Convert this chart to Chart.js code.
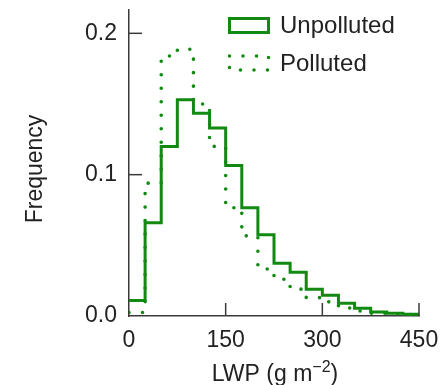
<!DOCTYPE html>
<html>
<head>
<meta charset="utf-8">
<script src="https://cdn.jsdelivr.net/npm/chart.js@4"></script>
<style>
  html, body { margin: 0; padding: 0; background: #fff; }
  #wrap { width: 444px; height: 385px; }
</style>
</head>
<body>
<div id="wrap"><canvas id="lwpChart" width="444" height="385"></canvas></div>
<script>
// LWP histograms, 25 g m-2 bins
const binEdges = [0, 25, 50, 75, 100, 125, 150, 175, 200, 225, 250, 275, 300, 325, 350, 375, 400, 425, 450];
const unpolluted = [0.011, 0.066, 0.120, 0.153, 0.1435, 0.133, 0.1065, 0.0766, 0.0574, 0.0374, 0.031, 0.019, 0.0146, 0.009, 0.0055, 0.0028, 0.002, 0.0013];
const polluted = [0.0025, 0.094, 0.184, 0.1887, 0.150, 0.120, 0.0766, 0.0567, 0.0333, 0.026, 0.019, 0.013, 0.010, 0.0057, 0.0035, 0.002, 0.0015, 0.001];
const seriesNames = ['Unpolluted', 'Polluted'];
const xTicks = [0, 150, 300, 450];
const yTicks = [0, 0.1, 0.2];

const GREEN = '#128a12';
const AXIS = '#3a3a3a';
const TEXT = '#222';
const FONT = '"Liberation Sans", Arial, Helvetica, sans-serif';

function stepPoints(values) {
  const pts = values.map((v, i) => ({ x: binEdges[i], y: v }));
  pts.push({ x: binEdges[binEdges.length - 1], y: values[values.length - 1] });
  return pts;
}

function strokeLine(ctx, x1, y1, x2, y2) {
  ctx.beginPath(); ctx.moveTo(x1, y1); ctx.lineTo(x2, y2); ctx.stroke();
}

function noPad(s) {
  s.paddingTop = 0; s.paddingBottom = 0; s.paddingLeft = 0; s.paddingRight = 0;
}

// inward tick marks, legend and axis titles
const decor = {
  id: 'decor',
  afterDraw(chart) {
    const { ctx, chartArea: a, scales: { x, y } } = chart;
    ctx.save();
    ctx.strokeStyle = AXIS;
    ctx.lineWidth = 1.5;
    xTicks.slice(1).forEach(v => {
      const px = x.getPixelForValue(v);
      strokeLine(ctx, px, a.bottom, px, a.bottom - 13);
    });
    yTicks.slice(1).forEach(v => {
      const py = y.getPixelForValue(v);
      strokeLine(ctx, a.left, py, a.left + 13, py);
    });

    // legend
    const rows = [25.5, 63];
    chart.data.datasets.forEach((ds, i) => {
      const cy = rows[i];
      ctx.save();
      ctx.strokeStyle = ds.borderColor;
      ctx.lineWidth = ds.borderWidth;
      ctx.lineCap = ds.borderCapStyle || 'butt';
      ctx.setLineDash(ds.borderDash || []);
      ctx.strokeRect(229.5, cy - 7, 39, 14);
      ctx.restore();
      ctx.fillStyle = TEXT;
      ctx.font = '24px ' + FONT;
      ctx.textAlign = 'left';
      ctx.textBaseline = 'middle';
      ctx.fillText(ds.label, 280, cy + 1);
    });

    // y title
    ctx.save();
    ctx.translate(36, 169);
    ctx.rotate(-Math.PI / 2);
    ctx.font = '23px ' + FONT;
    ctx.fillStyle = TEXT;
    ctx.textAlign = 'center';
    ctx.textBaseline = 'middle';
    ctx.fillText('Frequency', 0, 0);
    ctx.restore();

    // x title with superscript
    const main = '23px ' + FONT, sup = '16px ' + FONT;
    ctx.fillStyle = TEXT;
    ctx.textBaseline = 'alphabetic';
    ctx.textAlign = 'left';
    ctx.font = main; const w1 = ctx.measureText('LWP (g m').width;
    ctx.font = sup; const w2 = ctx.measureText('\u22122').width;
    ctx.font = main; const w3 = ctx.measureText(')').width;
    let tx = (a.left + a.right) / 2 - (w1 + w2 + w3) / 2 + 1;
    const base = 381;
    ctx.font = main; ctx.fillText('LWP (g m', tx, base); tx += w1;
    ctx.font = sup; ctx.fillText('\u22122', tx, base - 9); tx += w2;
    ctx.font = main; ctx.fillText(')', tx, base);
    ctx.restore();
  }
};

new Chart(document.getElementById('lwpChart'), {
  type: 'line',
  data: {
    datasets: [
      {
        label: seriesNames[0],
        data: stepPoints(unpolluted),
        stepped: 'before',
        borderColor: GREEN,
        borderWidth: 3,
        pointRadius: 0,
        fill: false
      },
      {
        label: seriesNames[1],
        data: stepPoints(polluted),
        stepped: 'before',
        borderColor: GREEN,
        borderWidth: 3.6,
        borderDash: [0, 13.5],
        borderCapStyle: 'round',
        pointRadius: 0,
        fill: false
      }
    ]
  },
  options: {
    responsive: false,
    animation: false,
    layout: { padding: { top: 10, right: 25, left: 0, bottom: 0 } },
    plugins: { legend: { display: false }, tooltip: { enabled: false } },
    scales: {
      x: {
        type: 'linear',
        min: 0, max: 450,
        grid: { display: false, drawTicks: false },
        border: { display: true, color: AXIS, width: 1.5 },
        afterBuildTicks: s => { s.ticks = xTicks.map(v => ({ value: v })); },
        afterFit: s => { s.height = 69; noPad(s); },
        ticks: {
          color: TEXT, padding: 11, maxRotation: 0,
          font: { family: FONT, size: 23 },
          callback: v => String(v)
        }
      },
      y: {
        min: 0, max: 0.2165,
        grid: { display: false, drawTicks: false },
        border: { display: true, color: AXIS, width: 1.5 },
        afterBuildTicks: s => { s.ticks = yTicks.map(v => ({ value: v })); },
        afterFit: s => { s.width = 129; noPad(s); },
        ticks: {
          color: TEXT, padding: 12,
          font: { family: FONT, size: 23 },
          callback: v => v.toFixed(1)
        }
      }
    }
  },
  plugins: [decor]
});
</script>
</body>
</html>
